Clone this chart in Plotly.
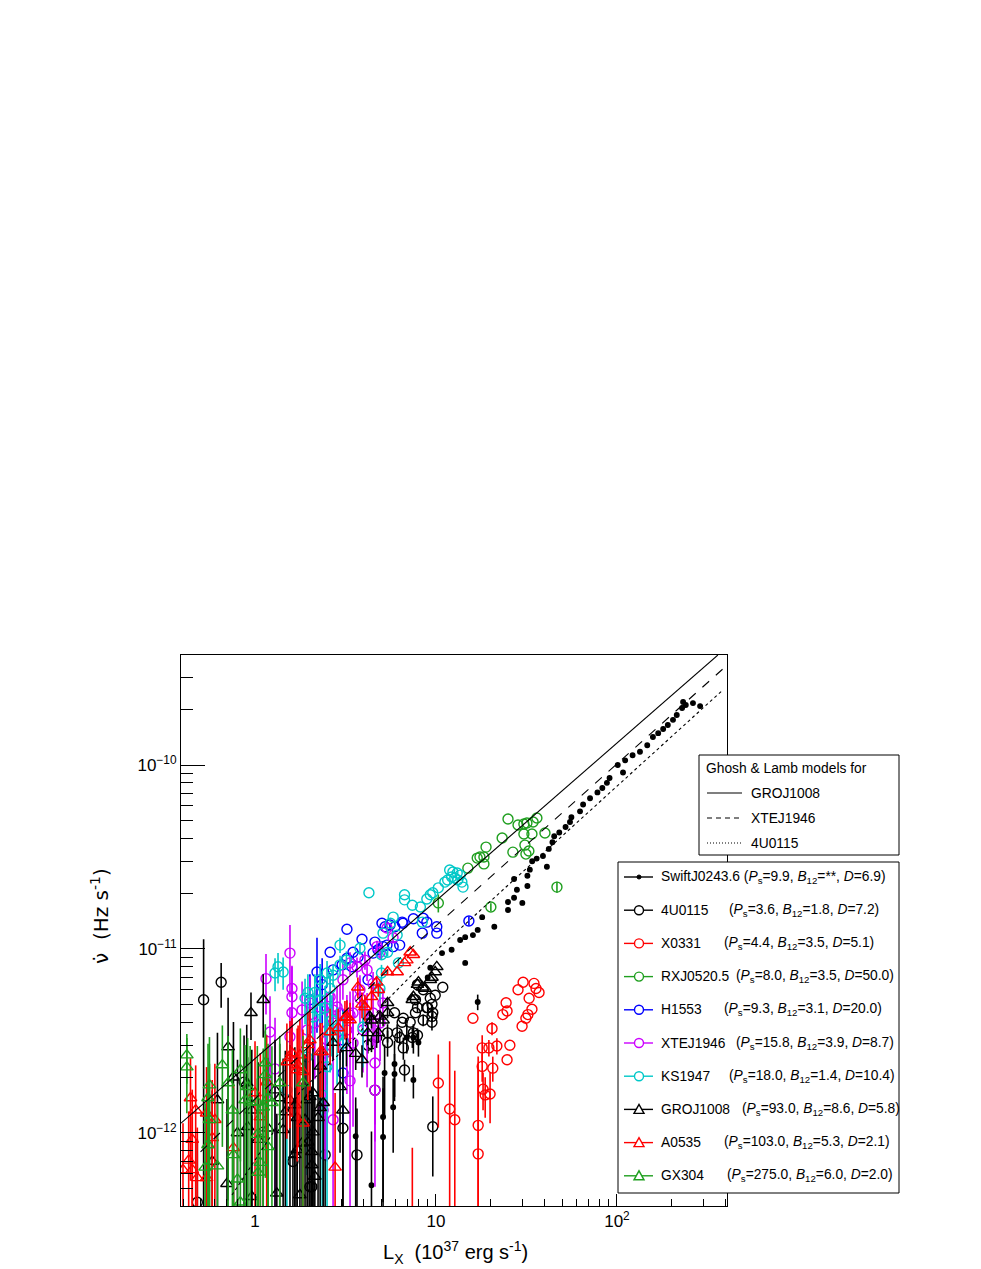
import plotly.graph_objects as go

# L_X in units of 1e37 erg/s, nudot and errors in units of 1e-12 Hz/s
swift_L = [288, 263, 240, 232, 229, 214, 204, 191, 180, 169, 158, 147, 134, 122, 111, 108, 101, 91, 88, 83,
           78, 71, 65, 62.5, 56, 55, 52, 48, 45, 44, 42, 41, 39, 36, 34, 33, 32, 32, 28, 27,
           27, 25, 30, 25, 21, 18, 17, 16, 14.5, 13.6, 12.2, 10.8, 14.5, 9.3, 9.0, 17, 7.5, 6.9, 8.0, 7.5,
           5.9, 5.9, 5.8, 5.2, 5.1, 5.1, 3.6, 4.4]
swift_nu = [209, 217, 212, 220, 204, 187, 176, 165, 157, 149, 142, 128, 118, 113, 106, 91, 100, 85, 80, 75,
            71, 66, 61, 56, 52, 49, 46, 43, 41, 38, 35, 28, 32, 31, 30, 27, 25, 22, 21, 24,
            19, 18, 17.8, 16.3, 13.2, 14.9, 12.7, 11.9, 11.6, 11.2, 9.9, 9.5, 8.4, 7.9, 7.0, 5.15, 3.3, 3.3, 3.1, 1.94,
            2.37, 2.09, 1.38, 2.12, 1.22, 0.95, 0.96, 0.52]
swift_err = [0] * 55 + [0.5, 0.6, 0.6, 0.5, 0.4, 0.8, 0.6, 0.6, 0.9, 0.8, 0.8, 0.6, 0.5]

u0115_L = [10.9, 9.9, 9.3, 9.0, 9.6, 9.5, 8.5, 8.9, 7.9, 7.5, 7.9, 7.2, 6.6, 6.5, 5.9, 6.1, 5.4, 6.6, 6.7, 7.4,
           9.6, 7.9, 8.5, 7.7, 9.5, 9.5, 7.7, 6.3, 5.4, 4.2, 4.4, 4.6, 3.06, 2.44, 3.66, 2.06, 0.52, 0.65, 0.48, 0.87,
           1.11, 1.62, 2.01, 4.7]
u0115_nu = [6.2, 5.6, 5.4, 4.8, 4.5, 4.0, 4.1, 4.8, 4.8, 3.5, 3.4, 4.0, 4.2, 4.0, 4.5, 3.5, 3.1, 2.9, 2.2, 3.3,
            1.08, 6.4, 6.0, 5.3, 5.0, 4.3, 4.5, 3.3, 3.5, 3.0, 3.05, 1.71, 1.06, 0.76, 0.76, 0.51, 5.3, 6.6, 0.42, 1.89,
            1.01, 0.70, 0.51, 3.3]
u0115_err = [0, 0, 0, 0.3, 0.3, 0.4, 0.3, 0, 0.3, 0.3, 0.3, 0, 0, 0, 0, 0.4, 0.5, 0.4, 0.3, 0.4,
             0.5, 0, 0, 0, 0, 0.3, 0, 0.3, 0.4, 0.3, 0.3, 0.6, 0.8, 0.8, 0.6, 0.8, 6.0, 1.8, 0.5, 1.5,
             1.0, 0.8, 0.6, 0.4]

x0331_L = [30.3, 34.8, 35.7, 37.1, 28.4, 32.7, 24.4, 33.9, 32.2, 24.7, 23.4, 31.4, 29.9, 20.4, 16.0, 25.6, 21.7,
           19.6, 18.0, 24.7, 18.0, 20.6, 18.2, 18.7, 19.9, 10.3, 11.9, 12.7, 17.1, 17.1, 7.4]
x0331_nu = [6.6, 6.5, 6.1, 5.8, 6.0, 5.4, 5.1, 4.7, 4.4, 4.6, 4.4, 4.2, 3.8, 3.7, 4.2, 3.0, 2.97,
            2.9, 2.9, 2.5, 2.3, 2.25, 1.73, 1.61, 1.63, 1.87, 1.35, 1.18, 1.10, 0.77, 0.2]
x0331_err = [0, 0, 0, 0, 0, 0, 0, 0, 0, 0, 0, 0, 0, 0.3, 0, 0, 0.3,
             0.3, 0.5, 0, 0.4, 0.35, 0.4, 0.4, 0.5, 0.8, 1.8, 1.0, 1.5, 1.5, 0.63]

rxj_L = [25.0, 28.4, 30.6, 31.8, 34.4, 36.1, 40.0, 30.6, 33.9, 23.2, 18.9, 31.0, 32.6, 31.4, 26.6, 16.9, 17.5,
         18.4, 18.4, 15.0, 46.6, 10.3, 20.1]
rxj_nu = [50.9, 47.2, 47.8, 48.4, 49.0, 51.5, 42.7, 42.2, 42.2, 40.1, 35.8, 36.7, 34.1, 32.8, 33.6, 31.2, 31.6,
          31.6, 29.0, 27.5, 21.7, 17.8, 16.9]
rxj_err = [0] * 20 + [1.5, 2.0, 0.8]

h1553_L = [3.22, 3.90, 4.60, 5.03, 5.23, 5.57, 5.93, 6.57, 5.09, 5.36, 4.78, 4.49, 3.48, 3.71, 3.22, 3.03, 3.43,
           2.70, 2.60, 4.21, 8.5, 8.9, 10.1, 10.1, 8.4, 15.2, 7.5, 6.5, 5.8, 6.3, 2.20, 3.06, 2.35, 2.01, 3.06]
h1553_nu = [12.8, 11.3, 10.9, 13.8, 13.2, 13.5, 13.2, 13.8, 10.3, 10.5, 9.9, 9.5, 9.6, 9.05, 8.9, 8.2, 8.0,
            7.7, 9.6, 6.8, 14.7, 14.0, 13.2, 12.2, 12.2, 14.2, 14.6, 14.0, 10.3, 10.5, 7.5, 3.2, 6.4, 5.3, 2.12]
h1553_err = [0] * 25 + [0.8, 0, 0, 0, 0, 4.0, 1.5, 2.5, 2.0, 1.0]

xte_L = [1.56, 1.15, 1.60, 1.60, 1.60, 1.21, 1.56, 1.94, 2.14, 2.70, 2.95, 3.35, 2.50, 3.22, 2.01, 2.29, 2.70,
         1.82, 4.60, 2.70, 4.60, 2.50, 3.48, 3.95, 4.16, 4.49, 5.09, 4.72, 4.91, 5.36, 5.79, 4.05, 3.66, 3.35,
         4.16, 3.06, 3.80, 3.80, 4.49, 3.48, 2.84, 2.60, 4.91, 3.35, 2.44, 2.38, 1.29]
xte_nu = [9.5, 6.9, 6.1, 5.5, 4.5, 3.54, 3.33, 3.63, 3.96, 3.96, 4.49, 4.38, 3.63, 3.63, 5.09, 4.84, 4.66,
          4.66, 1.71, 1.18, 2.40, 3.20, 3.08, 3.63, 3.77, 4.49, 5.09, 10.3, 9.6, 13.0, 11.5, 8.7, 8.0, 8.4,
          7.7, 6.8, 6.0, 5.4, 6.5, 4.49, 4.84, 5.48, 3.96, 1.92, 2.72, 1.33, 2.23]
xte_err = [4.0, 2.5, 2.0, 2.5, 2.0, 2.0, 1.5, 1.5, 2.0, 1.5, 2.0, 1.5, 1.8, 2.0, 2.0, 1.5, 1.2,
           2.0, 1.2, 1.5, 1.5, 2.5, 2.0, 1.5, 2.0, 1.5, 1.0, 0.8, 0.8, 0.6, 0.6, 1.0, 1.0, 1.2,
           1.0, 1.5, 1.2, 1.5, 1.0, 1.5, 1.5, 1.8, 1.5, 1.8, 2.0, 1.5, 2.0]

ks_L = [11.9, 12.4, 13.1, 13.6, 12.2, 12.7, 13.2, 13.9, 14.1, 11.6, 11.2, 10.3, 9.6, 9.3, 8.9, 8.2, 7.4, 6.7,
        6.7, 5.8, 5.6, 8.4, 4.26, 5.1, 6.1, 5.4, 5.0, 3.8, 2.95, 3.2, 2.95, 2.7, 2.5, 2.29, 2.6, 2.14, 1.96,
        1.89, 2.29, 2.44, 2.66, 2.09, 5.0, 6.2, 4.9, 3.95, 1.34, 1.43, 1.29, 2.29, 2.6, 2.84, 1.50, 3.06, 1.94,
        2.5, 2.35]
ks_nu = [26.9, 26.2, 25.9, 25.2, 24.6, 24.3, 23.7, 23.1, 21.7, 23.7, 23.1, 21.5, 20.2, 19.7, 18.7, 16.9, 17.3,
         19.7, 18.5, 14.9, 13.8, 14.0, 20.2, 12.2, 11.9, 9.6, 9.3, 10.1, 10.5, 8.7, 8.2, 7.2, 7.4, 6.8, 6.1, 5.8,
         5.8, 5.4, 5.3, 4.8, 4.1, 4.27, 7.4, 8.4, 6.1, 3.77, 8.0, 7.5, 7.4, 4.66, 3.63, 3.33, 1.71, 3.08, 2.59,
         2.29, 1.61]
ks_err = [0] * 25 + [0.5, 0.5, 0.8, 1.0, 1.0, 1.0, 1.0, 1.2, 1.5, 1.2, 1.5, 1.5, 1.5, 1.5, 1.5, 1.5, 1.5,
                     0.8, 0.6, 0.8, 1.5, 1.5, 1.5, 1.5, 1.5, 1.5, 1.5, 1.5, 1.5, 2.0, 2.0, 1.5]

gro_L = [10.1, 9.9, 9.5, 9.3, 8.0, 8.4, 7.5, 7.4, 5.4, 5.1, 7.9, 8.7, 5.4, 4.9, 4.3, 4.2, 4.8, 2.7, 3.2, 3.6,
         3.9, 2.3, 2.95, 3.06, 2.23, 2.09, 2.14, 2.38, 2.09, 1.94, 0.71, 0.76, 0.62, 0.90, 0.96, 0.91, 1.29, 1.37,
         1.56, 1.66, 1.47, 1.71, 1.89, 1.66, 2.06, 1.43, 1.18, 1.04, 0.80, 0.58, 0.70, 0.96, 1.32, 2.06, 1.82,
         1.11, 0.95, 1.77, 4.4, 2.01, 2.29, 1.96, 1.71]
gro_nu = [8.0, 7.5, 7.0, 6.8, 6.6, 6.2, 5.5, 5.3, 5.1, 4.1, 6.4, 6.1, 4.5, 4.3, 4.3, 3.5, 3.5, 3.1, 2.9, 2.7,
          2.5, 2.3, 1.78, 1.33, 1.21, 1.01, 0.58, 1.46, 1.65, 1.51, 2.93, 2.01, 1.51, 1.87, 1.33, 1.08, 1.71, 1.55,
          1.51, 1.42, 1.30, 1.21, 1.18, 0.76, 0.79, 1.04, 1.06, 0.92, 1.00, 0.70, 0.53, 0.45, 0.47, 0.67, 0.88,
          5.3, 4.5, 0.46, 4.1, 1.57, 1.37, 0.89, 0.81]
gro_err = [0, 0, 0, 0, 0, 0, 0, 0, 0.3, 0.3, 0, 0, 0.3, 0.3, 0.4, 0.5, 0.4, 0.6, 0.6, 0.5,
           0.5, 1.0, 1.0, 1.5, 1.5, 1.5, 1.0, 1.5, 1.5, 1.5, 2.5, 2.0, 2.0, 2.0, 1.5, 1.5, 1.5, 1.5,
           1.5, 1.5, 1.5, 1.5, 1.5, 1.0, 1.0, 1.5, 1.5, 1.5, 1.5, 1.0, 1.0, 0.8, 0.8, 1.0, 1.0,
           2.0, 1.3, 0.8, 0.4, 1.5, 1.5, 1.0, 1.0]

a0535_L = [7.2, 7.5, 6.9, 6.7, 6.1, 5.4, 4.7, 4.8, 3.7, 3.9, 4.05, 4.4, 3.22, 3.35, 2.6, 3.14, 2.88, 2.29, 2.01,
           1.96, 1.60, 1.50, 1.71, 1.07, 1.0, 0.76, 0.60, 0.58, 0.44, 0.47, 0.54, 0.43, 0.45, 0.48, 0.54, 0.40,
           2.77, 1.84, 2.35, 0.45, 1.16, 1.56, 1.77, 1.73, 1.84]
a0535_nu = [9.6, 9.3, 8.7, 8.4, 7.5, 7.5, 6.6, 6.0, 6.2, 5.0, 4.84, 5.5, 4.27, 4.11, 3.54, 4.22, 3.72, 2.76, 3.20,
            3.01, 2.72, 2.43, 2.20, 1.22, 1.65, 0.83, 1.18, 0.94, 1.55, 1.33, 1.28, 0.71, 0.63, 0.57, 0.57, 0.63,
            0.65, 1.13, 2.76, 0.92, 1.89, 2.56, 2.65, 2.34, 2.15]
a0535_err = [0, 0, 0, 0, 0, 0.3, 0.5, 0.5, 0.8, 0.8, 0.8, 0.8, 1.0, 1.0, 1.2, 1.0, 1.0, 1.2, 1.5,
             1.5, 1.5, 1.5, 1.5, 1.5, 1.5, 1.0, 1.2, 1.0, 1.0, 1.0, 1.0, 0.6, 0.6, 0.5, 0.5, 0.5,
             1.0, 1.5, 1.2, 0.8, 1.5, 1.5, 1.5, 1.5, 1.5]

gx_L = [0.42, 0.42, 0.66, 0.56, 0.55, 0.71, 0.83, 0.75, 0.91, 0.94, 1.11, 1.18, 1.24, 1.14, 1.14, 1.84, 0.55,
        0.53, 0.62, 1.03, 1.07, 1.18, 1.04, 0.80, 0.83, 0.76, 0.56, 1.37, 0.88, 1.03]
gx_nu = [2.65, 2.28, 2.34, 1.82, 1.55, 1.87, 2.20, 1.33, 1.78, 1.47, 1.38, 1.55, 1.46, 2.40, 2.07, 1.87, 0.86,
         0.65, 0.66, 0.98, 0.69, 0.84, 0.61, 0.56, 0.42, 0.76, 1.18, 1.87, 1.51, 1.47]
gx_err = [0.8, 1.0, 1.5, 1.5, 1.5, 1.5, 1.5, 1.5, 1.5, 1.5, 1.5, 1.5, 1.5, 1.5, 1.5, 1.5, 1.0,
          0.8, 0.8, 1.0, 0.8, 1.0, 0.8, 0.8, 0.6, 1.0, 1.2, 1.5, 1.5, 1.5]

# Ghosh & Lamb model curves
gro_model_L = [0.39, 361]
gro_model_nu = [1.13, 396]
xte_model_L = [0.50, 1.77, 6.33, 385]
xte_model_nu = [0.79, 2.65, 8.93, 333]
u0115_model_L = [0.746, 1.77, 2.60, 3.48, 5.57, 10.1, 385]
u0115_model_nu = [0.46, 1.67, 2.40, 3.20, 5.48, 9.88, 256]

GREEN = "#1f9f1f"
VIOLET = "#cc00ff"
CYAN = "#00c8c8"

series = [
    ("SwiftJ0243.6", swift_L, swift_nu, swift_err, "black", "circle", 4.5, "(<i>P</i><sub>s</sub>=9.9, <i>B</i><sub>12</sub>=**, <i>D</i>=6.9)"),
    ("4U0115", u0115_L, u0115_nu, u0115_err, "black", "circle-open", 10, "(<i>P</i><sub>s</sub>=3.6, <i>B</i><sub>12</sub>=1.8, <i>D</i>=7.2)"),
    ("X0331", x0331_L, x0331_nu, x0331_err, "red", "circle-open", 10, "(<i>P</i><sub>s</sub>=4.4, <i>B</i><sub>12</sub>=3.5, <i>D</i>=5.1)"),
    ("RXJ0520.5", rxj_L, rxj_nu, rxj_err, GREEN, "circle-open", 10, "(<i>P</i><sub>s</sub>=8.0, <i>B</i><sub>12</sub>=3.5, <i>D</i>=50.0)"),
    ("H1553", h1553_L, h1553_nu, h1553_err, "blue", "circle-open", 10, "(<i>P</i><sub>s</sub>=9.3, <i>B</i><sub>12</sub>=3.1, <i>D</i>=20.0)"),
    ("XTEJ1946", xte_L, xte_nu, xte_err, VIOLET, "circle-open", 10, "(<i>P</i><sub>s</sub>=15.8, <i>B</i><sub>12</sub>=3.9, <i>D</i>=8.7)"),
    ("KS1947", ks_L, ks_nu, ks_err, CYAN, "circle-open", 10, "(<i>P</i><sub>s</sub>=18.0, <i>B</i><sub>12</sub>=1.4, <i>D</i>=10.4)"),
    ("GROJ1008", gro_L, gro_nu, gro_err, "black", "triangle-up-open", 11, "(<i>P</i><sub>s</sub>=93.0, <i>B</i><sub>12</sub>=8.6, <i>D</i>=5.8)"),
    ("A0535", a0535_L, a0535_nu, a0535_err, "red", "triangle-up-open", 11, "(<i>P</i><sub>s</sub>=103.0, <i>B</i><sub>12</sub>=5.3, <i>D</i>=2.1)"),
    ("GX304", gx_L, gx_nu, gx_err, GREEN, "triangle-up-open", 11, "(<i>P</i><sub>s</sub>=275.0, <i>B</i><sub>12</sub>=6.0, <i>D</i>=2.0)"),
]
param_x = [None, 727, 722, 734, 722, 734, 727, 740, 722, 725]

FONT = "Liberation Sans, Arial, Helvetica, sans-serif"
E = 1e-12

fig = go.Figure()

for name, L, nu, err, col, sym, size, _ in series:
    fig.add_trace(go.Scatter(
        x=L, y=[v * E for v in nu], mode="markers", name=name,
        marker=dict(symbol=sym, size=size, color=col, line=dict(color=col, width=1.4)),
        error_y=dict(type="data", array=[e * E for e in err], visible=True,
                     width=0, thickness=1.6, color=col),
        showlegend=False,
    ))

for Lm, nm, dash in [(gro_model_L, gro_model_nu, "solid"),
                     (xte_model_L, xte_model_nu, "dash"),
                     (u0115_model_L, u0115_model_nu, "dot")]:
    fig.add_trace(go.Scatter(x=Lm, y=[v * E for v in nm], mode="lines",
                             line=dict(color="black", width=1.1, dash=dash),
                             showlegend=False, hoverinfo="skip"))

# plot area in page pixels: x 181..727, y 655..1206 (page has an 8px body offset)
def px(p):
    return (p - 181) / 546.0

def py(p):
    return (1206 - p) / 551.0

shapes = []
annotations = []
LEG = 13.8

# model legend box
shapes.append(dict(type="rect", xref="paper", yref="paper", x0=px(699), x1=px(899), y0=py(855), y1=py(755),
                   line=dict(color="black", width=1), fillcolor="white", layer="above"))
annotations.append(dict(x=px(704), y=py(768), xref="paper", yref="paper", xanchor="left", yanchor="middle",
                        text="Ghosh &amp; Lamb models for", showarrow=False, font=dict(size=LEG, color="black")))
for i, (lab, dash) in enumerate([("GROJ1008", "solid"), ("XTEJ1946", "5px,4px"), ("4U0115", "1px,2px")]):
    yy = 793 + 25 * i
    shapes.append(dict(type="line", xref="paper", yref="paper", x0=px(707), x1=px(742), y0=py(yy), y1=py(yy),
                       line=dict(color="black", width=1.1, dash=dash), layer="above"))
    annotations.append(dict(x=px(749), y=py(yy), xref="paper", yref="paper", xanchor="left", yanchor="middle",
                            text=lab, showarrow=False, font=dict(size=LEG, color="black")))

# data legend box
shapes.append(dict(type="rect", xref="paper", yref="paper", x0=px(618), x1=px(899), y0=py(1193), y1=py(862),
                   line=dict(color="black", width=1), fillcolor="white", layer="above"))
for i, (name, L, nu, err, col, sym, size, ptxt) in enumerate(series):
    yy = 877 + 33.2 * i
    shapes.append(dict(type="line", xref="paper", yref="paper", x0=px(624), x1=px(653), y0=py(yy), y1=py(yy),
                       line=dict(color=col, width=1.4), layer="above"))
    if sym == "circle":
        shapes.append(dict(type="circle", xref="paper", yref="paper", x0=px(637), x1=px(641),
                           y0=py(yy + 2), y1=py(yy - 2), fillcolor=col, line=dict(color=col, width=1),
                           layer="above"))
    elif sym == "circle-open":
        shapes.append(dict(type="circle", xref="paper", yref="paper", x0=px(634.5), x1=px(643.5),
                           y0=py(yy + 4.5), y1=py(yy - 4.5), fillcolor="white", line=dict(color=col, width=1.4),
                           layer="above"))
    else:
        path = "M {:.5f} {:.5f} L {:.5f} {:.5f} L {:.5f} {:.5f} Z".format(
            px(634), py(yy + 4), px(644), py(yy + 4), px(639), py(yy - 5))
        shapes.append(dict(type="path", xref="paper", yref="paper", path=path, fillcolor="white",
                           line=dict(color=col, width=1.4), layer="above"))
    if param_x[i] is None:
        annotations.append(dict(x=px(659), y=py(yy), xref="paper", yref="paper", xanchor="left",
                                yanchor="middle", text=name + " " + ptxt, showarrow=False,
                                font=dict(size=LEG, color="black")))
    else:
        annotations.append(dict(x=px(659), y=py(yy), xref="paper", yref="paper", xanchor="left",
                                yanchor="middle", text=name, showarrow=False, font=dict(size=LEG, color="black")))
        annotations.append(dict(x=px(param_x[i]), y=py(yy), xref="paper", yref="paper", xanchor="left",
                                yanchor="middle", text=ptxt, showarrow=False, font=dict(size=LEG, color="black")))

# axis titles
annotations.append(dict(x=px(455), y=py(1252), xref="paper", yref="paper", xanchor="center", yanchor="middle",
                        text="L<sub>X</sub>  (10<sup>37</sup> erg s<sup>-1</sup>)", showarrow=False,
                        font=dict(size=20, color="black")))
annotations.append(dict(x=px(100), y=py(916), xref="paper", yref="paper", xanchor="center", yanchor="middle",
                        text="\u03bd\u0307  (Hz s<sup>-1</sup>)", textangle=-90, showarrow=False,
                        font=dict(size=20, color="black", family="DejaVu Sans, Liberation Sans, sans-serif")))

x_minor = [0.4, 0.5, 0.6, 0.7, 0.8, 0.9, 2, 3, 4, 5, 6, 7, 8, 9, 20, 30, 40, 50, 60, 70, 80, 90, 200, 300, 400]
y_minor = [v * 1e-13 for v in [5, 6, 7, 8, 9]] + [v * 1e-12 for v in range(2, 10)] + \
          [v * 1e-11 for v in range(2, 10)] + [2e-10, 3e-10]

fig.update_layout(
    width=981, height=1269,
    margin=dict(l=173, r=262, t=647, b=71),
    paper_bgcolor="white", plot_bgcolor="white",
    font=dict(family=FONT, color="black"),
    shapes=shapes, annotations=annotations,
    xaxis=dict(type="log", range=[-0.409, 2.608], showgrid=False, zeroline=False,
               showline=True, linecolor="black", linewidth=1, mirror=True,
               ticks="inside", ticklen=12, tickcolor="black", tickwidth=1,
               tickvals=[1, 10, 100], ticktext=["1", "10", "10<sup>2</sup>"],
               tickfont=dict(size=17, color="black"),
               minor=dict(ticks="inside", ticklen=7, tickcolor="black", tickwidth=1,
                          tickmode="array", tickvals=x_minor, showgrid=False)),
    yaxis=dict(type="log", range=[-12.397, -9.402], showgrid=False, zeroline=False,
               showline=True, linecolor="black", linewidth=1, mirror=True,
               ticks="inside", ticklen=24, tickcolor="black", tickwidth=1,
               tickvals=[1e-12, 1e-11, 1e-10],
               ticktext=["10<sup>\u221212</sup>", "10<sup>\u221211</sup>", "10<sup>\u221210</sup>"],
               tickfont=dict(size=17, color="black"),
               minor=dict(ticks="inside", ticklen=12, tickcolor="black", tickwidth=1,
                          tickmode="array", tickvals=y_minor, showgrid=False)),
)

fig.write_html("out.html")
